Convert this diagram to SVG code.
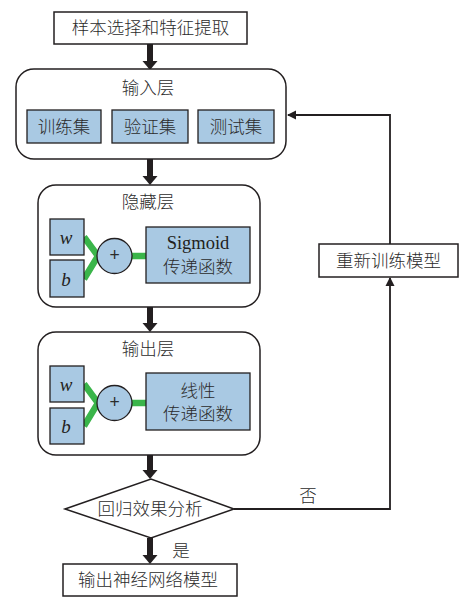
<svg xmlns="http://www.w3.org/2000/svg" width="460" height="597" viewBox="0 0 460 597">
<defs>
<style>
.t{font-family:"Liberation Sans","Noto Sans CJK SC",sans-serif;font-size:17.5px;font-weight:300;fill:#2b2b2b;text-anchor:middle;dominant-baseline:central}
.s{font-family:"Liberation Serif","Noto Sans CJK SC",serif;font-size:18.5px;fill:#231f20;text-anchor:middle;dominant-baseline:central}
.i{font-family:"Liberation Serif",serif;font-style:italic;font-size:19px;fill:#231f20;text-anchor:middle;dominant-baseline:central}
.box{fill:#fff;stroke:#231f20;stroke-width:1.5}
.layer{fill:#fff;stroke:#231f20;stroke-width:1.5}
.blue{fill:#a9c9e3;stroke:#231f20;stroke-width:1.3}
.g{stroke:#3ab54a;stroke-width:6.5;fill:none}
.thin{stroke:#231f20;stroke-width:1.8;fill:none}
.thick{stroke:#231f20;stroke-width:6;fill:none}
</style>
<marker id="ah" markerWidth="10" markerHeight="10" refX="8" refY="5" orient="auto" markerUnits="userSpaceOnUse">
<path d="M0,0.5 L9,5 L0,9.5 Z" fill="#231f20"/>
</marker>
</defs>

<g id="connectors">
<path class="thick" d="M150,44 V62"/><path d="M142.5,61 H157.5 L150,70 Z" fill="#231f20"/>
<path class="thick" d="M150,159 V177"/><path d="M142.5,176 H157.5 L150,185 Z" fill="#231f20"/>
<path class="thick" d="M150,307 V324"/><path d="M142.5,323 H157.5 L150,332 Z" fill="#231f20"/>
<path class="thick" d="M150,455 V471"/><path d="M142.5,470 H157.5 L150,479 Z" fill="#231f20"/>
<path class="thick" d="M150,538 V556"/><path d="M142.5,555 H157.5 L150,564 Z" fill="#231f20"/>
<path class="thin" d="M234,509 H390 V278" marker-end="url(#ah)"/>
<path class="thin" d="M390,244 V115 H288" marker-end="url(#ah)"/>
<text class="t" x="308" y="496">否</text>
<text class="t" x="181" y="551">是</text>
</g>

<g id="start">
<rect class="box" x="54" y="12" width="193" height="32"/>
<text class="t" x="150.5" y="28">样本选择和特征提取</text>
</g>

<g id="input-layer">
<rect class="layer" x="16" y="69" width="270" height="90" rx="18"/>
<text class="t" x="148" y="88">输入层</text>
<rect class="blue" x="27" y="110" width="74" height="33"/>
<text class="t" x="64" y="126.5">训练集</text>
<rect class="blue" x="112" y="110" width="76" height="33"/>
<text class="t" x="150" y="126.5">验证集</text>
<rect class="blue" x="198" y="110" width="76" height="33"/>
<text class="t" x="236" y="126.5">测试集</text>
</g>

<g id="hidden-layer">
<rect class="layer" x="38" y="185" width="222" height="122" rx="18"/>
<text class="t" x="148" y="202">隐藏层</text>
<path class="g" d="M84,237 L98,256 L84,279"/>
<path class="g" d="M131,256 H146"/>
<rect class="blue" x="50" y="219" width="34" height="36"/>
<text class="i" x="66" y="237">w</text>
<rect class="blue" x="50" y="260" width="34" height="37"/>
<text class="i" x="66" y="279">b</text>
<circle class="blue" cx="114.5" cy="256" r="17.5"/>
<text class="t" x="114.5" y="255">+</text>
<rect class="blue" x="146" y="227" width="104" height="56"/>
<text class="s" x="198" y="243">Sigmoid</text>
<text class="t" x="198" y="267">传递函数</text>
</g>

<g id="output-layer">
<rect class="layer" x="38" y="332" width="222" height="123" rx="18"/>
<text class="t" x="148" y="349">输出层</text>
<path class="g" d="M84,384 L98,403 L84,426"/>
<path class="g" d="M131,403 H146"/>
<rect class="blue" x="50" y="366" width="34" height="36"/>
<text class="i" x="66" y="384">w</text>
<rect class="blue" x="50" y="408" width="34" height="36"/>
<text class="i" x="66" y="426">b</text>
<circle class="blue" cx="114.5" cy="403" r="17.5"/>
<text class="t" x="114.5" y="402">+</text>
<rect class="blue" x="146" y="373" width="104" height="57"/>
<text class="t" x="198" y="391">线性</text>
<text class="t" x="198" y="414">传递函数</text>
</g>

<g id="decision">
<path class="box" d="M65,509 L151,479 L234,509 L151,538 Z"/>
<text class="t" x="150" y="509">回归效果分析</text>
</g>

<g id="retrain">
<rect class="box" x="319" y="244" width="139" height="33"/>
<text class="t" x="388.5" y="260.5">重新训练模型</text>
</g>

<g id="end">
<rect class="box" x="63" y="564" width="174" height="32"/>
<text class="t" x="148" y="580">输出神经网络模型</text>
</g>
</svg>
